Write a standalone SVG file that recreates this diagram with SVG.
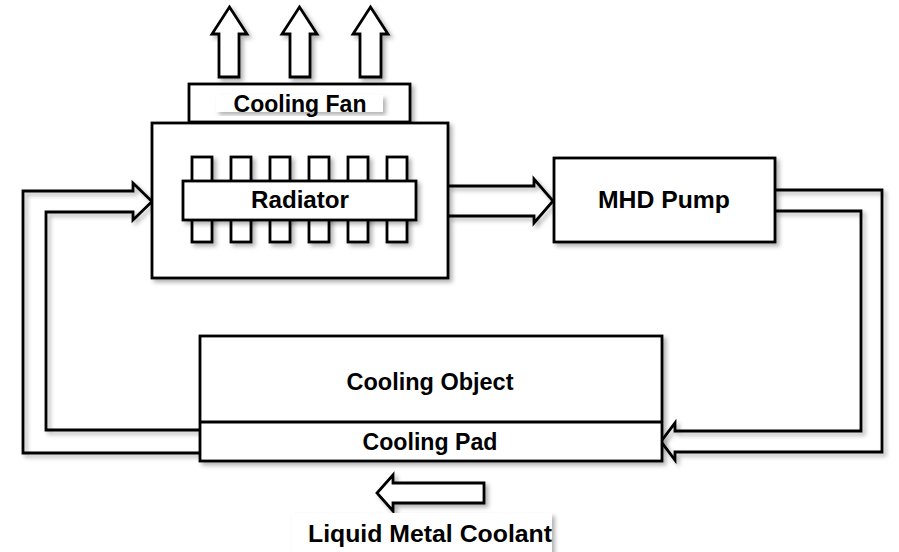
<svg xmlns="http://www.w3.org/2000/svg" width="899" height="552" viewBox="0 0 899 552">
<defs>
<filter id="sh" x="-10%" y="-10%" width="130%" height="130%">
<feDropShadow dx="3" dy="3" stdDeviation="2" flood-color="#000" flood-opacity="0.3"/>
</filter>
<style>
.b{fill:#fff;stroke:#000;stroke-width:2.8;stroke-linejoin:miter}
.l{fill:none;stroke:#000;stroke-width:2.8;stroke-linejoin:miter}
.t{font-family:"Liberation Sans",Arial,sans-serif;font-weight:bold;font-size:24px;fill:#000;text-anchor:middle}
</style>
</defs>
<rect width="899" height="552" fill="#fff"/>
<g id="connectors" filter="url(#sh)">
<path class="l" d="M200,453 H23 V191 H133 V183 L152,201.5 L133,220 V212 H46 V430 H200"/>
<path class="l" d="M775,190 H882 V452 H675 V460 L661,441.5 L675,423 V431 H861 V211 H775"/>
<path class="l" d="M448,186 H534 V179 L553,201 L534,223 V216 H448"/>
</g>
<g id="airflow" filter="url(#sh)">
<polygon class="b" points="219,77 219,34 212,34 229.5,7 247,34 239,34 239,77"/>
<polygon class="b" points="290,77 290,34 282,34 299.5,7 317,34 310,34 310,77"/>
<polygon class="b" points="360,77 360,34 353,34 370.5,7 388,34 381,34 381,77"/>
</g>
<g id="cooling-fan">
<rect class="b" x="189" y="84" width="221" height="38" filter="url(#sh)"/>
<rect x="216" y="95" width="167" height="17" fill="#fff" filter="url(#sh)"/>
<text class="t" x="300" y="112" textLength="133" lengthAdjust="spacingAndGlyphs">Cooling Fan</text>
</g>
<g id="radiator">
<rect class="b" x="152" y="123" width="296" height="155" filter="url(#sh)"/>
<g filter="url(#sh)">
<rect class="b" x="192" y="157" width="20" height="85"/>
<rect class="b" x="231" y="157" width="20" height="85"/>
<rect class="b" x="270" y="157" width="20" height="85"/>
<rect class="b" x="309" y="157" width="20" height="85"/>
<rect class="b" x="348" y="157" width="20" height="85"/>
<rect class="b" x="387" y="157" width="20" height="85"/>
</g>
<rect class="b" x="183" y="181" width="233" height="39" filter="url(#sh)"/>
<text class="t" x="300" y="208" textLength="98" lengthAdjust="spacingAndGlyphs">Radiator</text>
</g>
<g id="mhd-pump">
<rect class="b" x="554" y="158" width="221" height="84" filter="url(#sh)"/>
<text class="t" x="664" y="208" textLength="132" lengthAdjust="spacingAndGlyphs">MHD Pump</text>
</g>
<g id="cooling-object">
<rect class="b" x="200" y="336" width="462" height="125" filter="url(#sh)"/>
<line class="l" x1="200" y1="422" x2="662" y2="422"/>
<text class="t" x="430" y="390" textLength="167" lengthAdjust="spacingAndGlyphs">Cooling Object</text>
<text class="t" x="430" y="450" textLength="135" lengthAdjust="spacingAndGlyphs">Cooling Pad</text>
</g>
<g id="coolant-legend">
<polygon class="b" points="484,483 393,483 393,475 377,493 393,511 393,503 484,503" filter="url(#sh)"/>
<rect x="292" y="513" width="260" height="45" fill="#fff" filter="url(#sh)"/>
<text class="t" x="430" y="542" textLength="244" lengthAdjust="spacingAndGlyphs">Liquid Metal Coolant</text>
</g>
</svg>
